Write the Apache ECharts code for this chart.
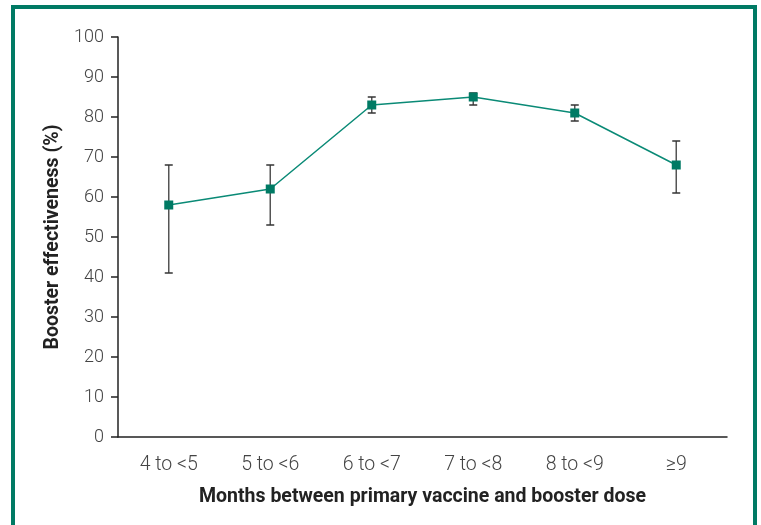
<!DOCTYPE html>
<html>
<head>
<meta charset="utf-8">
<script src="https://cdn.jsdelivr.net/npm/echarts@6/dist/echarts.min.js"></script>
<style>
html,body{margin:0;padding:0;background:#fff;}
#chart{width:761px;height:525px;}
</style>
</head>
<body>
<div id="chart"></div>
<script>
const categories = ['4 to <5', '5 to <6', '6 to <7', '7 to <8', '8 to <9', '\u22659'];
const effectiveness = [58, 62, 83, 85, 81, 68];
const lowerCI = [41, 53, 81, 83, 79, 61];
const upperCI = [68, 68, 85, 86, 83, 74];
const yTicks = [0, 10, 20, 30, 40, 50, 60, 70, 80, 90, 100];

const teal = '#007a64';
const font = 'Roboto, "Noto Sans", sans-serif';

const chart = echarts.init(document.getElementById('chart'), null, {renderer: 'canvas'});
const errData = categories.map((c, i) => [i, lowerCI[i], upperCI[i]]);

chart.setOption({
  animation: false,
  backgroundColor: '#fff',
  graphic: [{
    type: 'rect',
    shape: {x: 13, y: 7, width: 742, height: 600},
    style: {fill: 'none', stroke: teal, lineWidth: 4},
    silent: true
  }],
  grid: {left: 118, right: 34, top: 37, bottom: 88, containLabel: false},
  xAxis: {
    type: 'category',
    data: categories,
    boundaryGap: true,
    axisLine: {lineStyle: {color: '#222', width: 1.5}},
    axisTick: {alignWithLabel: true, length: 7, lineStyle: {color: '#222', width: 1.5}},
    axisLabel: {color: '#444', fontSize: 19.5, fontWeight: 300, fontFamily: font, margin: 18},
    name: 'Months between primary vaccine and booster dose',
    nameLocation: 'middle',
    nameGap: 50,
    nameTextStyle: {color: '#222', fontSize: 19.5, fontWeight: 'bold', fontFamily: font}
  },
  yAxis: {
    type: 'value',
    min: 0, max: 100, interval: 10,
    axisLine: {show: true, lineStyle: {color: '#222', width: 1.5}},
    axisTick: {show: true, length: 7, lineStyle: {color: '#222', width: 1.5}},
    splitLine: {show: false},
    axisLabel: {color: '#444', fontSize: 18, fontWeight: 300, fontFamily: font, margin: 14,
      formatter: v => yTicks.includes(v) ? String(v) : ''},
    name: 'Booster effectiveness (%)',
    nameLocation: 'middle',
    nameGap: 53,
    nameTextStyle: {color: '#222', fontSize: 19.5, fontWeight: 'bold', fontFamily: font}
  },
  series: [
    {
      type: 'custom',
      z: 1,
      data: errData,
      renderItem: function (params, api) {
        const x = api.value(0);
        const lo = api.coord([x, api.value(1)]);
        const hi = api.coord([x, api.value(2)]);
        const hw = 4;
        const st = {stroke: '#333', lineWidth: 1.5, fill: 'none'};
        return {
          type: 'group',
          children: [
            {type: 'line', shape: {x1: lo[0], y1: lo[1], x2: hi[0], y2: hi[1]}, style: {stroke: '#555', lineWidth: 1.5}},
            {type: 'line', shape: {x1: lo[0] - hw, y1: lo[1], x2: lo[0] + hw, y2: lo[1]}, style: st},
            {type: 'line', shape: {x1: hi[0] - hw, y1: hi[1], x2: hi[0] + hw, y2: hi[1]}, style: st}
          ]
        };
      }
    },
    {
      type: 'line',
      z: 3,
      data: effectiveness,
      symbol: 'rect',
      symbolSize: 9,
      itemStyle: {color: teal},
      lineStyle: {color: '#0a8a76', width: 1.5}
    }
  ]
});
</script>
</body>
</html>
